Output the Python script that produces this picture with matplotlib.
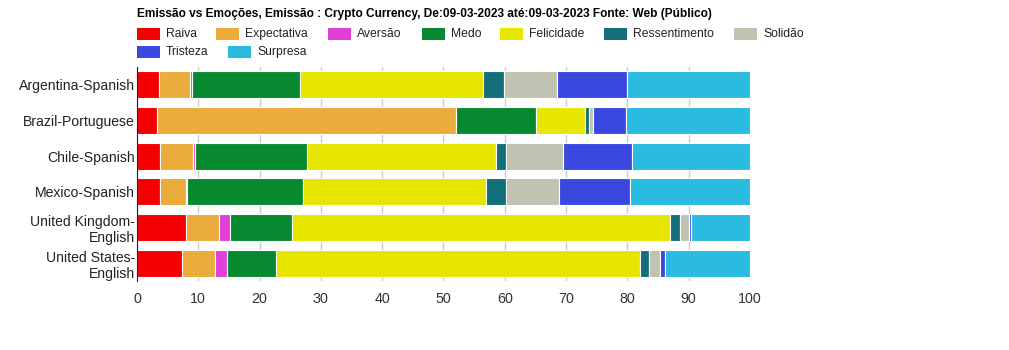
import numpy as np
import matplotlib.pyplot as plt
from matplotlib.patches import Rectangle

plt.rcParams['font.family'] = ['Liberation Sans', 'DejaVu Sans']

countries = [
    "Argentina-Spanish",
    "Brazil-Portuguese",
    "Chile-Spanish",
    "Mexico-Spanish",
    "United Kingdom-\nEnglish",
    "United States-\nEnglish",
]
emotions = ["Raiva", "Expectativa", "Aversão", "Medo", "Felicidade",
            "Ressentimento", "Solidão", "Tristeza", "Surpresa"]
colors = ["#f40000", "#ebac3b", "#e040d8", "#078a2f", "#e6e600",
          "#13707a", "#c0c3b2", "#3b48e0", "#29bce0"]

# percentages per country, in the order of emotions
raiva = [3.6, 3.3, 3.8, 3.8, 8.0, 7.4]
expectativa = [5.1, 48.8, 5.4, 4.2, 5.4, 5.4]
aversao = [0.2, 0.0, 0.2, 0.2, 1.8, 1.9]
medo = [17.7, 13.0, 18.3, 18.9, 10.1, 8.0]
felicidade = [29.9, 8.0, 30.9, 29.9, 61.7, 59.4]
ressentimento = [3.4, 0.6, 1.6, 3.2, 1.6, 1.5]
solidao = [8.6, 0.7, 9.3, 8.7, 1.5, 1.7]
tristeza = [11.4, 5.3, 11.3, 11.6, 0.2, 0.9]
surpresa = [20.1, 20.3, 19.2, 19.5, 9.7, 13.8]

series = [raiva, expectativa, aversao, medo, felicidade,
          ressentimento, solidao, tristeza, surpresa]

W, H = 1009, 350
fig = plt.figure(figsize=(W / 100, H / 100), dpi=100)
ax = fig.add_axes([137 / W, 1 - 281 / H, 613 / W, 214 / H])

y = np.arange(len(countries))
left = np.zeros(len(countries))
for name, vals, c in zip(emotions, series, colors):
    vals = np.array(vals)
    ax.barh(y, vals, left=left, height=0.75, color=c, edgecolor='white',
            linewidth=0.8, label=name, zorder=2)
    left += vals

ax.set_ylim(len(countries) - 0.5, -0.5)
ax.set_xlim(0, 100)
ax.set_yticks(y)
ax.set_yticklabels(countries, fontsize=10.1, ha='right', color='#222222')
ax.set_xticks(np.arange(0, 101, 10))
ax.tick_params(axis='x', length=0, labelsize=10.3, pad=8, labelcolor='#333333')
ax.tick_params(axis='y', length=0, pad=1.5)
ax.grid(axis='x', color='#cccccc', linewidth=1, zorder=0)
for s in ['top', 'right', 'bottom']:
    ax.spines[s].set_visible(False)
ax.spines['left'].set_color('#222222')

fig.text(137 / W, 1 - 14 / H,
         "Emissão vs Emoções, Emissão : Crypto Currency, De:09-03-2023 até:09-03-2023 Fonte: Web (Público)",
         fontsize=8.6, fontweight='bold', va='center', ha='left')

# legend laid out in rows, like the original
legend_pos = [(137, 34), (216, 34), (328, 34), (422, 34), (500, 34),
              (604, 34), (734, 34), (137, 52), (228, 52)]
for (lx, ly), name, c in zip(legend_pos, emotions, colors):
    fig.add_artist(Rectangle((lx / W, 1 - (ly + 5.5) / H), 23 / W, 11 / H,
                             facecolor=c, edgecolor='none',
                             transform=fig.transFigure))
    fig.text((lx + 29) / W, 1 - ly / H, name, fontsize=8.7, va='center',
             ha='left', color='#222222')

fig.savefig("out.png", dpi=100)
